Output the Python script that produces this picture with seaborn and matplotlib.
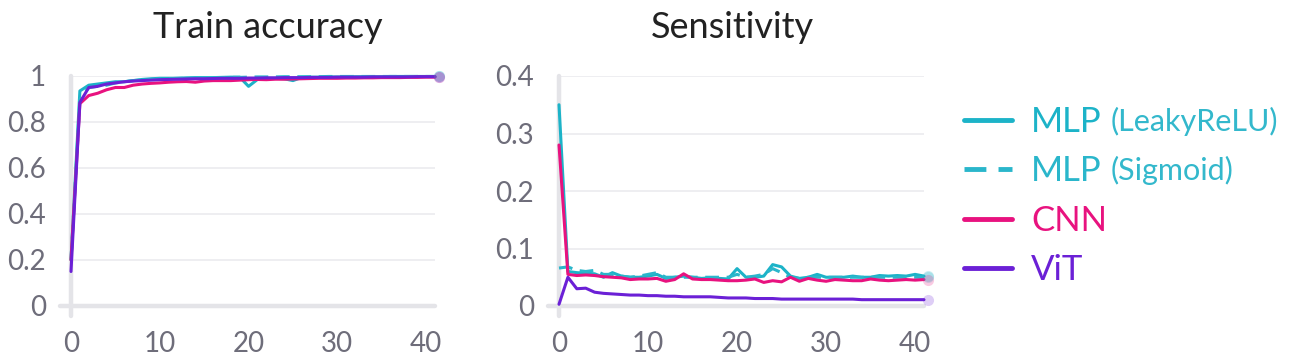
import matplotlib
matplotlib.use("Agg")
import matplotlib.pyplot as plt
from matplotlib.ticker import FuncFormatter
import numpy as np
import pandas as pd
import seaborn as sns

# %% data
epochs = list(range(42))
models = ["MLP (LeakyReLU)", "MLP (Sigmoid)", "CNN", "ViT"]

acc_leaky = [0.2, 0.935, 0.96, 0.965, 0.97, 0.975, 0.975, 0.98, 0.985, 0.988, 0.99, 0.99,
             0.99, 0.992, 0.993, 0.993, 0.993, 0.994, 0.995, 0.995, 0.955, 0.985, 0.99, 0.99,
             0.988, 0.98, 0.994, 0.995, 0.995, 0.996, 0.996, 0.996, 0.997, 0.997, 0.997, 0.997,
             0.998, 0.998, 0.998, 0.998, 0.998, 0.998]
acc_sigmoid = [0.2, 0.9, 0.95, 0.955, 0.96, 0.97, 0.975, 0.98, 0.982, 0.985, 0.987, 0.988,
               0.99, 0.99, 0.99, 0.992, 0.993, 0.993, 0.994, 0.994, 0.995, 0.996, 0.996, 0.996,
               0.997, 0.997, 0.997, 0.997, 0.997, 0.998, 0.998, 0.998, 0.998, 0.998, 0.998, 0.998,
               0.998, 0.998, 0.998, 0.998, 0.998, 0.998]
acc_cnn = [0.2, 0.88, 0.915, 0.925, 0.94, 0.95, 0.95, 0.96, 0.965, 0.968, 0.97, 0.973,
           0.975, 0.976, 0.973, 0.978, 0.98, 0.98, 0.98, 0.982, 0.984, 0.985, 0.984, 0.986,
           0.986, 0.987, 0.988, 0.989, 0.99, 0.99, 0.99, 0.991, 0.991, 0.992, 0.992, 0.993,
           0.993, 0.993, 0.994, 0.994, 0.995, 0.995]
acc_vit = [0.15, 0.885, 0.95, 0.955, 0.965, 0.97, 0.975, 0.978, 0.98, 0.982, 0.984, 0.985,
           0.986, 0.987, 0.988, 0.988, 0.989, 0.99, 0.99, 0.99, 0.991, 0.991, 0.992, 0.992,
           0.993, 0.993, 0.993, 0.994, 0.994, 0.994, 0.995, 0.995, 0.995, 0.995, 0.996, 0.996,
           0.996, 0.996, 0.996, 0.997, 0.997, 0.997]

sens_leaky = [0.35, 0.06, 0.058, 0.057, 0.056, 0.05, 0.058, 0.052, 0.05, 0.05, 0.052, 0.055,
              0.048, 0.05, 0.052, 0.05, 0.048, 0.049, 0.048, 0.047, 0.065, 0.05, 0.05, 0.052,
              0.072, 0.068, 0.052, 0.048, 0.05, 0.055, 0.05, 0.05, 0.05, 0.052, 0.05, 0.05,
              0.053, 0.052, 0.053, 0.052, 0.055, 0.052]
sens_sigmoid = [0.066, 0.068, 0.062, 0.06, 0.062, 0.055, 0.055, 0.052, 0.05, 0.052, 0.055, 0.058,
                0.05, 0.05, 0.05, 0.05, 0.05, 0.05, 0.05, 0.05, 0.055, 0.05, 0.052, 0.055,
                0.065, 0.058, 0.05, 0.048, 0.05, 0.05, 0.05, 0.05, 0.05, 0.05, 0.05, 0.05,
                0.05, 0.05, 0.05, 0.05, 0.05, 0.05]
sens_cnn = [0.28, 0.055, 0.053, 0.054, 0.053, 0.051, 0.05, 0.049, 0.046, 0.047, 0.047, 0.048,
            0.043, 0.046, 0.056, 0.047, 0.046, 0.046, 0.045, 0.044, 0.044, 0.045, 0.047, 0.041,
            0.044, 0.042, 0.05, 0.043, 0.048, 0.045, 0.043, 0.046, 0.045, 0.044, 0.044, 0.047,
            0.045, 0.044, 0.045, 0.046, 0.045, 0.046]
sens_vit = [0.003, 0.05, 0.03, 0.031, 0.024, 0.022, 0.021, 0.02, 0.019, 0.019, 0.018, 0.018,
            0.017, 0.017, 0.016, 0.016, 0.016, 0.016, 0.015, 0.014, 0.014, 0.014, 0.013, 0.013,
            0.013, 0.012, 0.012, 0.012, 0.012, 0.012, 0.012, 0.012, 0.012, 0.012, 0.011, 0.011,
            0.011, 0.011, 0.011, 0.011, 0.011, 0.011]

acc_ticks = [0, 0.2, 0.4, 0.6, 0.8, 1]
sens_ticks = [0, 0.1, 0.2, 0.3, 0.4]
x_ticks = [0, 10, 20, 30, 40]

palette = {"MLP (LeakyReLU)": "#1cb3c8", "MLP (Sigmoid)": "#2ab6cb",
           "CNN": "#e8127f", "ViT": "#6b20d6"}
dashes = {"MLP (LeakyReLU)": "", "MLP (Sigmoid)": (4.5, 2.5), "CNN": "", "ViT": ""}


def long_frame(series):
    rows = []
    for name, vals in zip(models, series):
        rows.append(pd.DataFrame(dict(epoch=epochs, value=vals, model=name)))
    return pd.concat(rows, ignore_index=True)


acc_df = long_frame([acc_leaky, acc_sigmoid, acc_cnn, acc_vit])
sens_df = long_frame([sens_leaky, sens_sigmoid, sens_cnn, sens_vit])

# %% style
sns.set_style("white")
plt.rcParams["font.family"] = ["Lato", "DejaVu Sans"]
tick_grey = "#6e6d7a"
axis_grey = "#e4e4e8"

fig = plt.figure(figsize=(12.95, 3.63), dpi=100)
ax1 = fig.add_axes([71 / 1295, 57 / 363, 364 / 1295, 230 / 363])
ax2 = fig.add_axes([559 / 1295, 57 / 363, 365 / 1295, 230 / 363])


def draw(ax, df, ymax, yticks, title, title_x):
    sns.lineplot(data=df, x="epoch", y="value", hue="model", style="model",
                 palette=palette, dashes=dashes, hue_order=models, style_order=models,
                 linewidth=2.2, errorbar=None, legend=False, ax=ax)
    for line in ax.lines:
        line.set_clip_on(False)
    # faint end markers
    for name in models:
        last = df[df.model == name].iloc[-1]
        ax.plot(last.epoch + 0.5, last.value, "o", ms=8, color=palette[name],
                alpha=0.22, mec="none", clip_on=False)
    ax.set_xlim(0, 41)
    ax.set_ylim(0, ymax)
    ax.set_xticks(x_ticks)
    ax.set_yticks(yticks)
    ax.yaxis.set_major_formatter(FuncFormatter(lambda v, p: f"{v:g}"))
    ax.grid(axis="y", color="#ededf0", linewidth=1.3)
    ax.set_axisbelow(True)
    for s in ax.spines.values():
        s.set_visible(False)
    ax.axhline(0, xmin=-0.03, xmax=1, color=axis_grey, lw=3.2, clip_on=False, zorder=1)
    ax.axvline(0, ymin=-0.045, ymax=1, color=axis_grey, lw=3.2, clip_on=False, zorder=1)
    ax.tick_params(axis="x", direction="inout", length=14, width=1.8, color=axis_grey,
                   labelsize=20, labelcolor=tick_grey, pad=11)
    ax.tick_params(axis="y", direction="inout", length=14, width=1.8, color="#ececef",
                   labelsize=20, labelcolor=tick_grey, pad=11)
    ax.set_xlabel("")
    ax.set_ylabel("")
    ax.text(title_x, 1.209, title, transform=ax.transAxes, ha="center", va="center",
            fontsize=26, color="#222222")


draw(ax1, acc_df, 1, acc_ticks, "Train accuracy", 0.541)
draw(ax2, sens_df, 0.4, sens_ticks, "Sensitivity", 0.474)

# %% legend
handles = ax2.lines[:4]
leg = fig.legend(handles, ["MLP", "MLP", "CNN", "ViT"], loc="center left",
                 bbox_to_anchor=(0.72, 0.46), frameon=False, fontsize=25,
                 handlelength=1.4, handletextpad=0.55, labelspacing=0.5,
                 labelcolor="linecolor")
for h in leg.get_lines():
    h.set_linewidth(3.5)
texts = leg.get_texts()
for txt, extra in zip(texts[:2], ["(LeakyReLU)", "(Sigmoid)"]):
    fig.canvas.draw()
    ax2.annotate(extra, xy=(1, 0.07), xycoords=txt, xytext=(6, 0),
                 textcoords="offset points", va="bottom", ha="left",
                 fontsize=22, color="#33b8cc", annotation_clip=False)

fig.savefig("out.png", dpi=100, facecolor="white")
plt.close(fig)
